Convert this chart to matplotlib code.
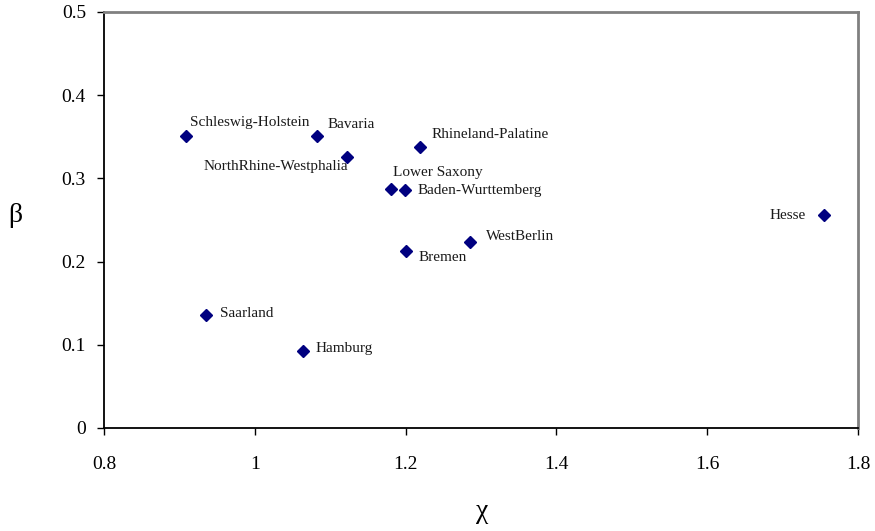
import matplotlib
matplotlib.use("Agg")
import matplotlib.pyplot as plt

# data
states = [
    "Schleswig-Holstein", "Bavaria", "NorthRhine-Westphalia", "Rhineland-Palatine",
    "Lower Saxony", "Baden-Wurttemberg", "WestBerlin", "Bremen", "Hesse",
    "Saarland", "Hamburg",
]
chi = [0.909, 1.082, 1.122, 1.219, 1.180, 1.199, 1.286, 1.201, 1.755, 0.935, 1.064]
beta = [0.351, 0.351, 0.326, 0.338, 0.287, 0.286, 0.224, 0.213, 0.256, 0.136, 0.0925]

x_ticks = [0.8, 1.0, 1.2, 1.4, 1.6, 1.8]
x_tick_labels = ["0.8", "1", "1.2", "1.4", "1.6", "1.8"]
y_ticks = [0, 0.1, 0.2, 0.3, 0.4, 0.5]
y_tick_labels = ["0", "0.1", "0.2", "0.3", "0.4", "0.5"]

# label placement (offset points, horizontal alignment)
label_pos = {
    "Schleswig-Holstein": ((3, 10), "left"),
    "Bavaria": ((8, 8), "left"),
    "NorthRhine-Westphalia": ((1, -7), "right"),
    "Rhineland-Palatine": ((8, 9), "left"),
    "Lower Saxony": ((2, 12), "left"),
    "Baden-Wurttemberg": ((9, 0), "left"),
    "WestBerlin": ((11, 4), "left"),
    "Bremen": ((9, -5), "left"),
    "Hesse": ((-13, 0), "right"),
    "Saarland": ((10, 1), "left"),
    "Hamburg": ((9, 2), "left"),
}

plt.rcParams["font.family"] = ["Liberation Serif", "DejaVu Serif"]

fig = plt.figure(figsize=(8.75, 5.31), dpi=100)
ax = fig.add_axes([104 / 875, 1 - 428 / 531, 754 / 875, 416 / 531])

ax.plot(chi, beta, linestyle="none", marker="D", markersize=6.5,
        color="#000080", markeredgecolor="#000080", zorder=5, clip_on=False)

for name, x, y in zip(states, chi, beta):
    (dx, dy), ha = label_pos[name]
    ax.annotate(name, (x, y), textcoords="offset points", xytext=(dx, dy),
                ha=ha, va="center", fontsize=11, color="#1a1a1a")

ax.set_xlim(0.8, 1.8)
ax.set_ylim(0, 0.5)
ax.set_xticks(x_ticks)
ax.set_xticklabels(x_tick_labels)
ax.set_yticks(y_ticks)
ax.set_yticklabels(y_tick_labels)
ax.tick_params(axis="both", direction="out", length=5, width=1, labelsize=14,
               color="#000000")
ax.tick_params(axis="x", pad=15)
ax.tick_params(axis="y", pad=8)

for side in ("top", "right"):
    ax.spines[side].set_color("#808080")
    ax.spines[side].set_linewidth(2)
for side in ("left", "bottom"):
    ax.spines[side].set_color("#000000")
    ax.spines[side].set_linewidth(1.3)

fig.text(15 / 875, 1 - 215 / 531, "β", fontsize=20, ha="center", va="center")
fig.text(482 / 875, 1 - 518 / 531, "χ", fontsize=20, ha="center", va="baseline")

fig.savefig("out.png", dpi=100)
